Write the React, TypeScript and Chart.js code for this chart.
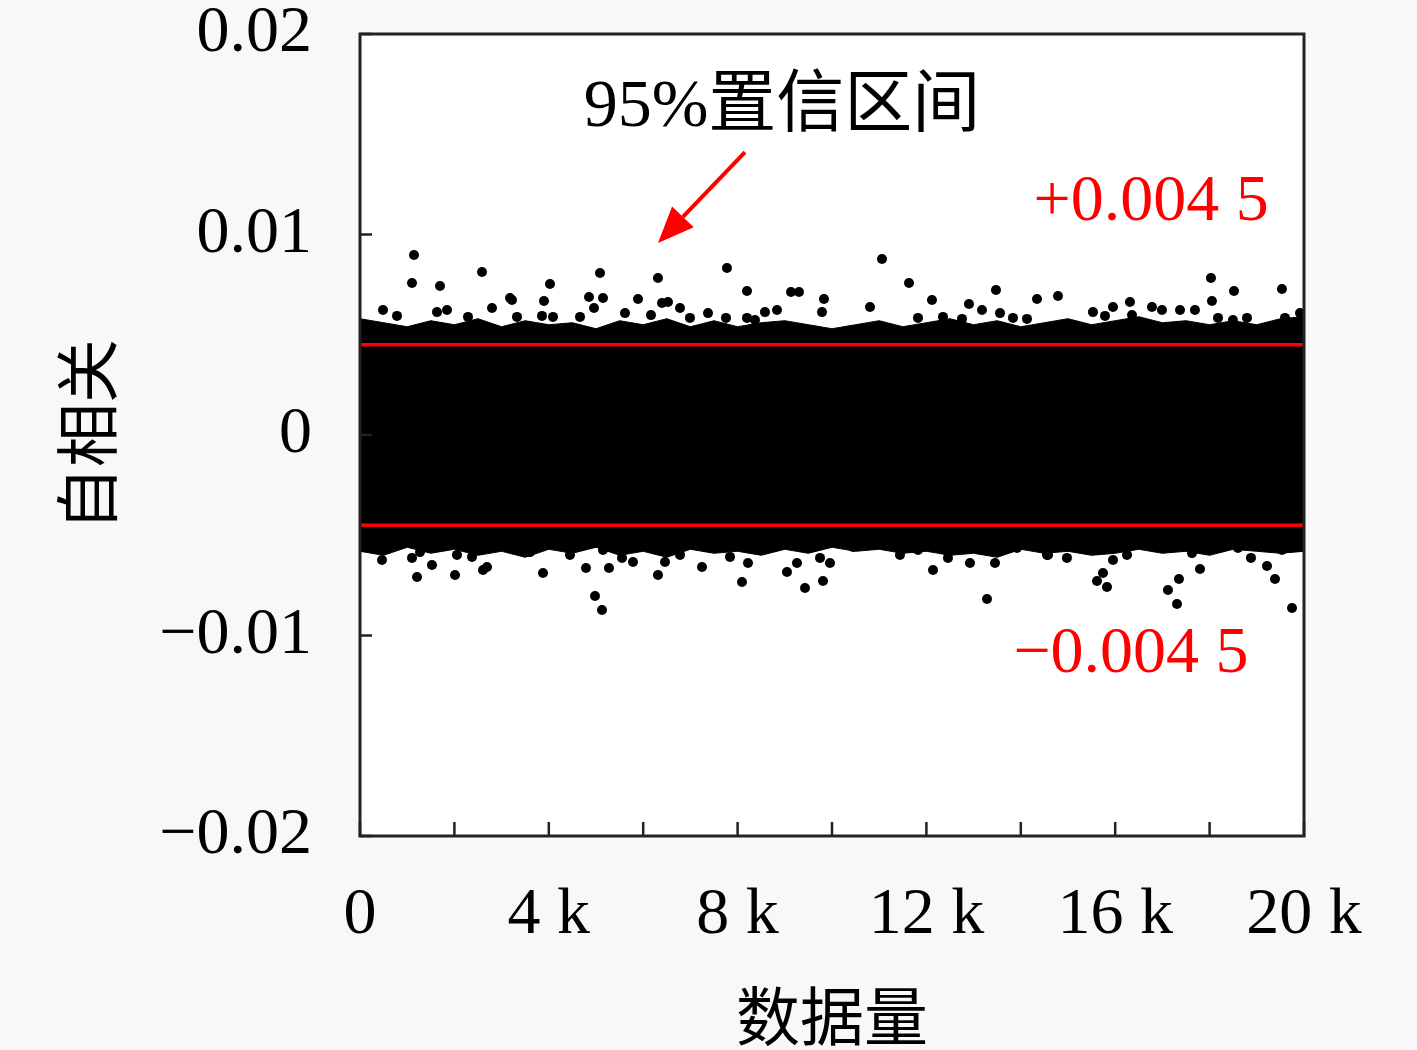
import React, { useEffect, useRef } from 'react';
import { Chart, registerables } from 'chart.js';

Chart.register(...registerables);

// x positions (data count) where the dense band's edge was read
const bandX = [0, 500, 1000, 1500, 2000, 2500, 3000, 3500, 4000, 4500, 5000, 5500, 6000, 6500, 7000,
  7500, 8000, 8500, 9000, 9500, 10000, 10500, 11000, 11500, 12000, 12500, 13000, 13500, 14000,
  14500, 15000, 15500, 16000, 16500, 17000, 17500, 18000, 18500, 19000, 19500, 20000];
const bandUpper = [0.0058, 0.0056, 0.0054, 0.0057, 0.0055, 0.0058, 0.0054, 0.0057, 0.0055, 0.0056,
  0.0053, 0.0057, 0.0055, 0.0058, 0.0054, 0.0057, 0.0054, 0.0056, 0.0057, 0.0055, 0.0053,
  0.0055, 0.0057, 0.0054, 0.0056, 0.0058, 0.0055, 0.0057, 0.0054, 0.0056, 0.0058, 0.0055,
  0.0057, 0.0059, 0.0056, 0.0057, 0.0055, 0.0057, 0.0055, 0.0058, 0.0059];
const bandLower = [-0.0058, -0.0060, -0.0056, -0.0059, -0.0057, -0.0060, -0.0058, -0.0061, -0.0057,
  -0.0059, -0.0056, -0.0060, -0.0058, -0.0061, -0.0057, -0.0059, -0.0058, -0.0060, -0.0057,
  -0.0059, -0.0056, -0.0058, -0.0057, -0.0059, -0.0058, -0.0060, -0.0059, -0.0061, -0.0057,
  -0.0059, -0.0058, -0.0060, -0.0059, -0.0057, -0.0059, -0.0058, -0.0060, -0.0057, -0.0058,
  -0.0059, -0.0058];

// isolated points above / below the band
const topPoints: [number, number][] = [
  [1144, 0.00898], [1102, 0.00758], [1695, 0.00743], [2585, 0.00813], [4025, 0.00753],
  [5085, 0.00808], [6313, 0.00783], [7775, 0.00833], [8199, 0.00718], [9131, 0.00713],
  [9301, 0.00713], [9830, 0.00678], [5890, 0.00678], [4852, 0.00688], [5148, 0.00683],
  [3898, 0.00668], [3178, 0.00683], [11059, 0.00878], [11631, 0.00758], [12118, 0.00673],
  [13474, 0.00723], [14343, 0.00678], [14788, 0.00693], [18029, 0.00783], [18050, 0.00668],
  [18517, 0.00718], [19533, 0.00728], [12902, 0.00653], [13178, 0.00623],
  // fringe
  [487, 0.00623], [784, 0.00594], [1631, 0.00613], [1843, 0.00623], [2288, 0.00589],
  [2797, 0.00633], [3220, 0.00673], [3326, 0.00589], [3856, 0.00594], [4089, 0.00589],
  [4661, 0.00589], [4958, 0.00633], [5614, 0.00608], [6165, 0.00598], [6398, 0.00658],
  [6525, 0.00663], [6780, 0.00633], [6991, 0.00584], [7373, 0.00608], [7754, 0.00584],
  [8199, 0.00584], [8368, 0.00574], [8580, 0.00613], [8835, 0.00623], [9788, 0.00613],
  [10805, 0.00638], [11822, 0.00584], [12351, 0.00589], [12754, 0.00579], [13559, 0.00608],
  [13834, 0.00584], [14131, 0.00579], [14555, 0.00539], [15529, 0.00613], [15784, 0.00594],
  [15953, 0.00638], [16313, 0.00663], [16356, 0.00598], [16779, 0.00638], [16991, 0.00623],
  [17373, 0.00623], [17690, 0.00623], [18178, 0.00584], [18495, 0.00574], [18792, 0.00584],
  [19597, 0.00584], [19915, 0.00608],
];
const bottomPoints: [number, number][] = [
  [466, -0.00623], [1208, -0.00708], [1525, -0.00648], [2013, -0.00698], [2691, -0.00658],
  [3877, -0.00688], [4788, -0.00663], [5275, -0.00663], [4979, -0.00803], [5127, -0.00873],
  [6313, -0.00698], [7246, -0.00658], [8093, -0.00733], [9046, -0.00683], [9258, -0.00638],
  [9428, -0.00763], [9809, -0.00728], [9957, -0.00638], [12140, -0.00673], [13284, -0.00818],
  [14576, -0.00598], [15826, -0.00758], [15741, -0.00688], [15614, -0.00728], [17118, -0.00773],
  [17309, -0.00843], [17351, -0.00718], [17796, -0.00668], [18877, -0.00613], [19216, -0.00653],
  [19386, -0.00718], [19746, -0.00863],
  // fringe
  [64, -0.00534], [572, -0.00539], [1102, -0.00613], [1271, -0.00584], [1737, -0.00549],
  [2055, -0.00598], [2373, -0.00608], [2606, -0.00673], [3602, -0.00584], [3877, -0.00549],
  [4449, -0.00598], [4830, -0.00534], [5148, -0.00574], [5551, -0.00613], [5784, -0.00633],
  [6292, -0.00559], [6462, -0.00633], [6780, -0.00598], [7563, -0.00564], [7839, -0.00608],
  [8220, -0.00638], [8474, -0.00574], [8750, -0.00534], [9534, -0.00549], [9746, -0.00613],
  [10445, -0.00559], [11017, -0.00539], [11440, -0.00598], [11822, -0.00574], [12457, -0.00613],
  [12923, -0.00638], [13453, -0.00638], [13919, -0.00564], [14555, -0.00598], [14978, -0.00613],
  [15317, -0.00559], [15953, -0.00623], [16250, -0.00598], [17012, -0.00564], [17627, -0.00589],
  [17966, -0.00539], [18601, -0.00564], [19131, -0.00549], [19533, -0.00574], [19851, -0.00559],
];

const confLimit = 0.0045;
const xRange = [0, 20000];
const yRange = [-0.02, 0.02];

const SERIF = '"Liberation Serif", "Noto Sans CJK SC", serif';
const CJK = '"Noto Sans CJK SC", sans-serif';

const fmtY = (v: number) => {
  const r = Math.round(v * 100) / 100;
  if (r === 0) return '0';
  return (r < 0 ? '\u2212' : '') + Math.abs(r).toFixed(2);
};

const fmtX = (v: number) => {
  if (v === 0) return '0';
  if (v % 4000 !== 0) return '';
  return `${v / 1000} k`;
};

const framePlugin = {
  id: 'frame',
  beforeDraw(chart: any) {
    const { ctx, chartArea: a } = chart;
    ctx.save();
    ctx.fillStyle = '#ffffff';
    ctx.fillRect(a.left, a.top, a.right - a.left, a.bottom - a.top);
    ctx.restore();
  },
  afterDraw(chart: any) {
    const { ctx, chartArea: a, scales } = chart;
    const x = scales.x;
    const y = scales.y;
    ctx.save();
    ctx.strokeStyle = '#222222';
    ctx.lineWidth = 3;
    ctx.strokeRect(a.left, a.top, a.right - a.left, a.bottom - a.top);

    // inward tick marks
    ctx.lineWidth = 2.5;
    x.ticks.forEach((t: any) => {
      const px = x.getPixelForValue(t.value);
      ctx.beginPath();
      ctx.moveTo(px, a.bottom);
      ctx.lineTo(px, a.bottom - 14);
      ctx.stroke();
    });
    y.ticks.forEach((t: any) => {
      const py = y.getPixelForValue(t.value);
      ctx.beginPath();
      ctx.moveTo(a.left, py);
      ctx.lineTo(a.left + 12, py);
      ctx.stroke();
    });

    // annotations
    ctx.textAlign = 'center';
    ctx.textBaseline = 'middle';
    ctx.font = `68px ${SERIF}`;
    ctx.fillStyle = '#000000';
    ctx.fillText('95%置信区间', x.getPixelForValue(8940), y.getPixelForValue(0.0163));

    ctx.font = `66px ${SERIF}`;
    ctx.fillStyle = '#ff0000';
    ctx.fillText('+0.004 5', x.getPixelForValue(16760), y.getPixelForValue(0.01157));
    ctx.fillText('\u22120.004 5', x.getPixelForValue(16335), y.getPixelForValue(-0.01097));

    // arrow
    const sx = x.getPixelForValue(8157);
    const sy = y.getPixelForValue(0.01411);
    const tx = x.getPixelForValue(6314);
    const ty = y.getPixelForValue(0.00958);
    const ang = Math.atan2(ty - sy, tx - sx);
    const headLen = 36;
    const headW = 15;
    const bx = tx - headLen * Math.cos(ang);
    const by = ty - headLen * Math.sin(ang);
    ctx.strokeStyle = '#ff0000';
    ctx.lineWidth = 4;
    ctx.beginPath();
    ctx.moveTo(sx, sy);
    ctx.lineTo(bx, by);
    ctx.stroke();
    ctx.beginPath();
    ctx.moveTo(tx, ty);
    ctx.lineTo(bx + headW * Math.sin(ang), by - headW * Math.cos(ang));
    ctx.lineTo(bx - headW * Math.sin(ang), by + headW * Math.cos(ang));
    ctx.closePath();
    ctx.fill();
    ctx.restore();
  },
};

export default function App() {
  const canvasRef = useRef<HTMLCanvasElement>(null);

  useEffect(() => {
    document.body.style.margin = '0';
    document.body.style.background = '#f8f8f8';
    if (!canvasRef.current) return;

    const dot = { pointRadius: 5, pointBackgroundColor: '#000', pointBorderWidth: 0, showLine: false };

    const chart = new Chart(canvasRef.current, {
      type: 'scatter',
      data: {
        datasets: [
          {
            label: 'upper limit',
            data: xRange.map((v) => ({ x: v, y: confLimit })),
            showLine: true,
            borderColor: '#ff0000',
            borderWidth: 3.5,
            pointRadius: 0,
            order: 0,
          },
          {
            label: 'lower limit',
            data: xRange.map((v) => ({ x: v, y: -confLimit })),
            showLine: true,
            borderColor: '#ff0000',
            borderWidth: 3.5,
            pointRadius: 0,
            order: 0,
          },
          { label: 'top', data: topPoints.map(([x, y]) => ({ x, y })), ...dot, order: 1 },
          { label: 'bottom', data: bottomPoints.map(([x, y]) => ({ x, y })), ...dot, order: 1 },
          {
            label: 'band upper',
            data: bandX.map((x, i) => ({ x, y: bandUpper[i] })),
            showLine: true,
            fill: '+1',
            backgroundColor: '#000000',
            borderColor: '#000000',
            borderWidth: 1,
            pointRadius: 0,
            order: 2,
          },
          {
            label: 'band lower',
            data: bandX.map((x, i) => ({ x, y: bandLower[i] })),
            showLine: true,
            borderColor: '#000000',
            borderWidth: 1,
            pointRadius: 0,
            order: 3,
          },
        ],
      },
      options: {
        animation: false,
        responsive: true,
        maintainAspectRatio: false,
        events: [],
        layout: { padding: { top: 34, right: 113, left: 0, bottom: 0 } },
        plugins: { legend: { display: false }, tooltip: { enabled: false } },
        scales: {
          x: {
            type: 'linear',
            min: xRange[0],
            max: xRange[1],
            grid: { display: false, drawTicks: false },
            border: { display: false },
            ticks: {
              stepSize: 2000,
              autoSkip: false,
              maxRotation: 0,
              padding: 40,
              color: '#000',
              font: { family: SERIF, size: 66, lineHeight: 1.2 },
              callback: (v: any) => fmtX(Number(v)),
            },
            title: {
              display: true,
              text: '数据量',
              color: '#000',
              font: { family: CJK, size: 64, lineHeight: 1 },
              padding: { top: 0, bottom: 2 },
            },
            afterFit: (s: any) => {
              s.height = 214;
              s.paddingLeft = 0;
              s.paddingRight = 0;
            },
          },
          y: {
            type: 'linear',
            min: yRange[0],
            max: yRange[1],
            grid: { display: false, drawTicks: false },
            border: { display: false },
            ticks: {
              stepSize: 0.01,
              padding: 48,
              color: '#000',
              font: { family: SERIF, size: 66 },
              callback: (v: any) => fmtY(Number(v)),
            },
            title: {
              display: true,
              text: '自相关',
              color: '#000',
              font: { family: CJK, size: 64, lineHeight: 1 },
              padding: { top: 55, bottom: 0 },
            },
            afterFit: (s: any) => {
              s.width = 360;
              s.paddingTop = 0;
              s.paddingBottom = 0;
            },
          },
        },
      },
      plugins: [framePlugin],
    });

    return () => chart.destroy();
  }, []);

  return (
    <div style={{ position: 'absolute', left: 0, top: 0, width: 1417, height: 1050 }}>
      <canvas ref={canvasRef} />
    </div>
  );
}
